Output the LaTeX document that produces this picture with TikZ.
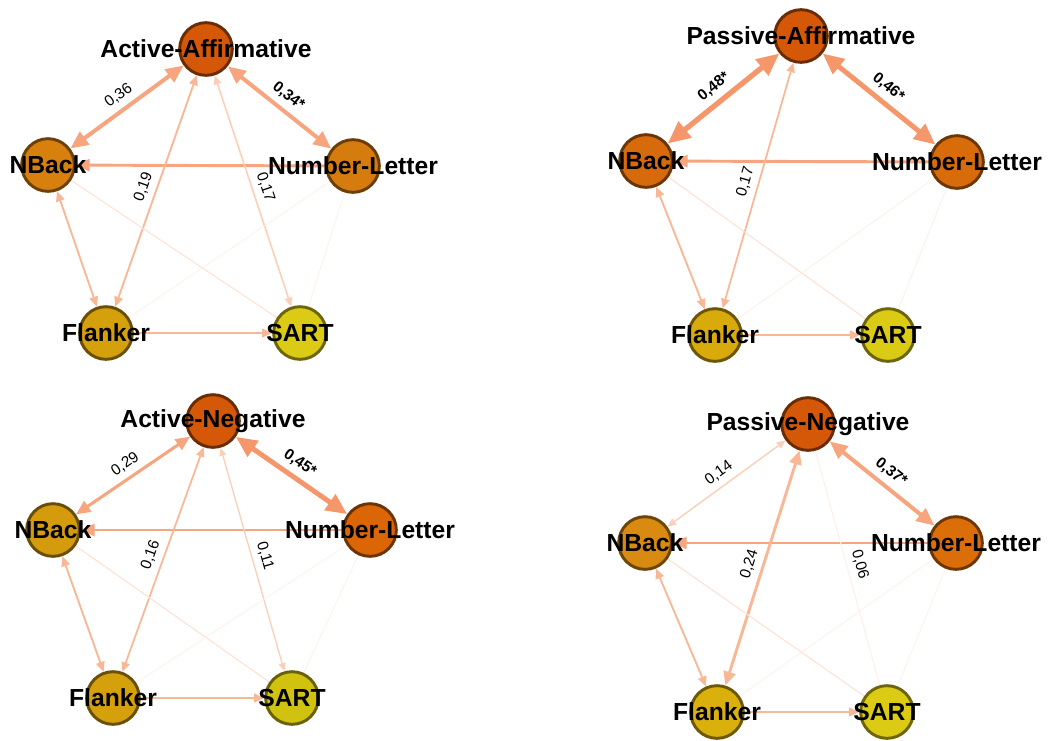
\documentclass[tikz,border=0pt]{standalone}
\usepackage{fontspec}
\setmainfont{Liberation Sans}
\usepackage{xcolor}
\usetikzlibrary{arrows.meta, backgrounds}

% node fills
\definecolor{sentA}{HTML}{D45808}
\definecolor{nbackA}{HTML}{D8800E}
\definecolor{nletA}{HTML}{D67C0E}
\definecolor{flankA}{HTML}{D4A00C}
\definecolor{sartA}{HTML}{DCCB14}
\definecolor{nbackB}{HTML}{D76A0A}
\definecolor{nletB}{HTML}{D86C0A}
\definecolor{flankB}{HTML}{D8AA0C}
\definecolor{nbackC}{HTML}{D49B0C}
\definecolor{nletC}{HTML}{DA6606}
\definecolor{sartC}{HTML}{D2C210}
\definecolor{nbackD}{HTML}{D98A10}
\definecolor{nletD}{HTML}{DC6E0A}
\definecolor{flankD}{HTML}{DAB00C}
% edge shades
\definecolor{eone}{HTML}{F5976A}
\definecolor{etwo}{HTML}{F7A57E}
\definecolor{ethree}{HTML}{F8B896}
\definecolor{efour}{HTML}{FAD0B8}
\definecolor{efive}{HTML}{FCE2D3}
\definecolor{esix}{HTML}{FDF0E7}

\begin{document}
\begin{tikzpicture}[
  x=0.75pt, y=-0.75pt,
  >={Triangle[length=2.5pt 3.6, width=2pt 3.2]},
  task/.style={circle, draw=#1!50!black, fill=#1, line width=2.2pt, minimum size=39.5pt, inner sep=0pt},
  tasklabel/.style={font=\fontsize{18.5}{20}\selectfont\bfseries, inner sep=0pt},
  link/.style={draw=#1, line cap=butt},
  elabel/.style={font=\fontsize{11.5}{13}\selectfont, sloped, above, inner sep=4.5pt, pos=0.5},
  siglabel/.style={elabel, font=\fontsize{11.5}{13}\selectfont\bfseries}
]
\path[use as bounding box] (0,0) rectangle (1048,740);

% Active-Affirmative
\node[task=sentA, label={[tasklabel]center:Active-Affirmative}] (top1) at (206,49) {};
\node[task=nbackA, label={[tasklabel]center:NBack}] (nb1) at (48,165) {};
\node[task=nletA, label={[tasklabel]center:Number-Letter}] (nl1) at (353,166) {};
\node[task=flankA, label={[tasklabel]center:Flanker}] (fl1) at (106,333) {};
\node[task=sartA, label={[tasklabel]center:SART}] (sa1) at (300,333) {};

% Passive-Affirmative
\node[task=sentA, label={[tasklabel]center:Passive-Affirmative}] (top2) at (801,36) {};
\node[task=nbackB, label={[tasklabel]center:NBack}] (nb2) at (646,161) {};
\node[task=nletB, label={[tasklabel]center:Number-Letter}] (nl2) at (957,162) {};
\node[task=flankB, label={[tasklabel]center:Flanker}] (fl2) at (715,335) {};
\node[task=sartA, label={[tasklabel]center:SART}] (sa2) at (888,335) {};

% Active-Negative
\node[task=sentA, label={[tasklabel]center:Active-Negative}] (top3) at (213,421) {};
\node[task=nbackC, label={[tasklabel]center:NBack}] (nb3) at (53,530) {};
\node[task=nletC, label={[tasklabel]center:Number-Letter}] (nl3) at (370,530) {};
\node[task=flankA, label={[tasklabel]center:Flanker}] (fl3) at (113,698) {};
\node[task=sartC, label={[tasklabel]center:SART}] (sa3) at (292,698) {};

% Passive-Negative
\node[task=sentA, label={[tasklabel]center:Passive-Negative}] (top4) at (808,424) {};
\node[task=nbackD, label={[tasklabel]center:NBack}] (nb4) at (645,543) {};
\node[task=nletD, label={[tasklabel]center:Number-Letter}] (nl4) at (956,543) {};
\node[task=flankD, label={[tasklabel]center:Flanker}] (fl4) at (717,712) {};
\node[task=sartA, label={[tasklabel]center:SART}] (sa4) at (887,712) {};

\begin{scope}[on background layer]
\draw[link=etwo, line width=3pt, <->] (nb1) -- (top1) node[elabel] {0,36};
\draw[link=etwo, line width=3pt, <->] (top1) -- (nl1) node[siglabel] {0,34*};
\draw[link=etwo, line width=2.2pt, ->] (nl1) -- (nb1);
\draw[link=ethree, line width=1.4pt, <->] (fl1) -- (top1) node[elabel] {0,19};
\draw[link=efour, line width=1.2pt, <->] (top1) -- (sa1) node[elabel] {0,17};
\draw[link=ethree, line width=1.4pt, <->] (nb1) -- (fl1);
\draw[link=efive, line width=0.8pt] (nb1) -- (sa1);
\draw[link=esix, line width=0.6pt] (nl1) -- (fl1);
\draw[link=esix, line width=0.6pt] (nl1) -- (sa1);
\draw[link=ethree, line width=1.4pt, ->] (fl1) -- (sa1);

\draw[link=eone, line width=4pt, <->] (nb2) -- (top2) node[siglabel] {0,48*};
\draw[link=eone, line width=3.7pt, <->] (top2) -- (nl2) node[siglabel] {0,46*};
\draw[link=etwo, line width=2.2pt, ->] (nl2) -- (nb2);
\draw[link=ethree, line width=1.3pt, <->] (fl2) -- (top2) node[elabel] {0,17};
\draw[link=ethree, line width=1.4pt, <->] (nb2) -- (fl2);
\draw[link=efive, line width=0.8pt] (nb2) -- (sa2);
\draw[link=esix, line width=0.7pt] (nl2) -- (fl2);
\draw[link=esix, line width=0.7pt] (nl2) -- (sa2);
\draw[link=ethree, line width=1.4pt, ->] (fl2) -- (sa2);

\draw[link=etwo, line width=2.3pt, <->] (nb3) -- (top3) node[elabel] {0,29};
\draw[link=eone, line width=3.7pt, <->] (top3) -- (nl3) node[siglabel] {0,45*};
\draw[link=etwo, line width=2.2pt, ->] (nl3) -- (nb3);
\draw[link=ethree, line width=1.3pt, <->] (fl3) -- (top3) node[elabel] {0,16};
\draw[link=efour, line width=1pt, <->] (top3) -- (sa3) node[elabel] {0,11};
\draw[link=ethree, line width=1.4pt, <->] (nb3) -- (fl3);
\draw[link=efive, line width=0.8pt] (nb3) -- (sa3);
\draw[link=esix, line width=0.6pt] (nl3) -- (fl3);
\draw[link=esix, line width=0.6pt] (nl3) -- (sa3);
\draw[link=ethree, line width=1.4pt, ->] (fl3) -- (sa3);

\draw[link=efour, line width=1.1pt, <->] (nb4) -- (top4) node[elabel] {0,14};
\draw[link=etwo, line width=3pt, <->] (top4) -- (nl4) node[siglabel] {0,37*};
\draw[link=etwo, line width=2.2pt, ->] (nl4) -- (nb4);
\draw[link=ethree, line width=2.2pt, <->] (fl4) -- (top4) node[elabel] {0,24};
\draw[link=esix, line width=0.8pt] (top4) -- (sa4) node[elabel] {0,06};
\draw[link=ethree, line width=1.4pt, <->] (nb4) -- (fl4);
\draw[link=efive, line width=0.8pt] (nb4) -- (sa4);
\draw[link=esix, line width=0.6pt] (nl4) -- (fl4);
\draw[link=esix, line width=0.6pt] (nl4) -- (sa4);
\draw[link=ethree, line width=1.4pt, ->] (fl4) -- (sa4);
\end{scope}

\end{tikzpicture}
\end{document}
